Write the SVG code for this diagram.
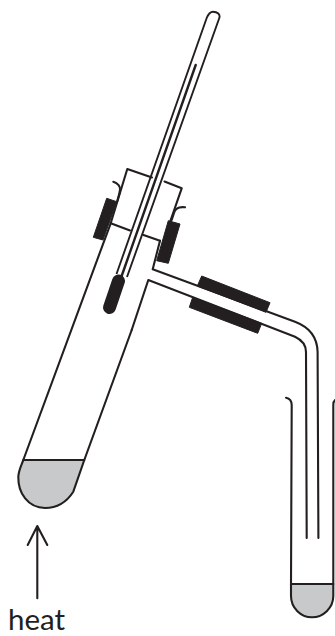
<svg xmlns="http://www.w3.org/2000/svg" width="335" height="636" viewBox="0 0 335 636">
<style>
.l{fill:none;stroke:#231f20;stroke-width:2.1;stroke-linecap:round;stroke-linejoin:round}
.t{fill:none;stroke:#231f20;stroke-width:1.9;stroke-linejoin:round}
.r{fill:#231f20;stroke:#231f20;stroke-width:1;stroke-linejoin:round}
.q{fill:#c8c9cb;stroke:#231f20;stroke-width:2.1;stroke-linejoin:round}
text{font-family:Lato,"Open Sans",sans-serif;font-size:29.5px;fill:#231f20}
</style>
<g id="boiling-tube">
<path class="q" d="M23.3 460H84.3L73.3 491.7C66 503 56 508 45 508C28 508 18 493 18.3 476.7C18.5 471 21 466 23.3 460Z"/>
<path class="l" d="M110.7 223.3L23.3 460"/>
<path class="l" d="M131.7 330L84.3 460"/>
</g>
<g id="stopper">
<path class="l" d="M110.7 223.3L127.3 169L152 177.5M164.5 181.5L181.7 188.3L170 222"/>
<path class="l" d="M110.7 223.3L130 230.5M143.5 235L160 240.7"/>
<path class="l" d="M113.3 181.7C118 183 120.5 187 120 190C119.5 194 118 198 117 202"/>
<path class="l" d="M185 207.3C178 206.5 175 209 174 213L171.7 220"/>
<path class="r" d="M106.7 198.3L116.7 201.7L103 240L93.3 237.3Z"/>
<path class="r" d="M168.3 220.7L180 224L168.3 263.3L156.7 260.7Z"/>
</g>
<g id="thermometer">
<path class="t" d="M116.5 274L206.7 18C208.5 13.5 210.5 11.7 213 11.7C217.5 11.7 220.5 14.5 219.3 18L127 277"/>
<path fill="none" stroke="#231f20" stroke-width="2.4" stroke-linecap="round" d="M195.7 65L122 275"/>
<path fill="none" stroke="#231f20" stroke-width="13" stroke-linecap="round" d="M118.5 281L109.5 307.5"/>
</g>
<g id="delivery-tube">
<path class="l" d="M160 240.7L152.7 269.3L295 321.7C309 327 317.3 337 317.6 352L318.4 538"/>
<path class="l" d="M131.7 330L148.3 280L295 336.7C302 340 306 345 306 352L306.7 538"/>
<path class="r" d="M201.7 276L270 302.7L266 312.3L197.3 286Z"/>
<path class="r" d="M192.7 297.3L261.7 323.3L257.7 333.3L189.3 307.3Z"/>
</g>
<g id="collecting-tube">
<path class="q" d="M291 584H333.3V596C333.3 608 323 617.3 312 617.3C301 617.3 291 608 291 596Z"/>
<path class="l" d="M286 397.7C290 398.5 291.7 401 291.7 405L291 584"/>
<path class="l" d="M335 400C333.8 401 333.3 403 333.3 405V584"/>
</g>
<g id="connectors">
<path class="l" d="M37.3 598.3V527M27.7 545L37.3 526L47.3 545"/>
</g>
<g id="heat-label"><text x="8" y="629.5">heat</text></g>
</svg>
